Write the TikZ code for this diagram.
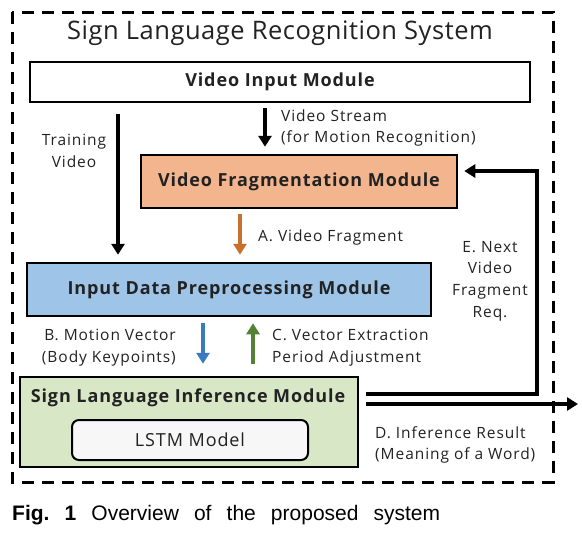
\documentclass[tikz,border=0pt]{standalone}
\usepackage{fontspec}
\setmainfont{Open Sans}
\newfontfamily\capfont{Liberation Sans}
\newfontfamily\lblfont{Open Sans}[LetterSpace=6]
\newfontfamily\boxfont{Open Sans}[LetterSpace=5]
\newfontfamily\titlefont{Open Sans}[LetterSpace=2]
\usetikzlibrary{arrows.meta}
\definecolor{txt}{HTML}{222222}
\definecolor{orfill}{HTML}{F2B58E}
\definecolor{orarrow}{HTML}{C9702A}
\definecolor{blfill}{HTML}{9EC4E8}
\definecolor{blarrow}{HTML}{3A7BBF}
\definecolor{grfill}{HTML}{D8E8C6}
\definecolor{grarrow}{HTML}{548235}
\definecolor{lstmfill}{HTML}{F7F7F7}
\tikzset{
  modbox/.style={draw=black, line width=2.5pt, inner sep=0pt, font=\boxfont\fontsize{18}{21}\selectfont\bfseries, text=txt},
  lbl/.style={font=\lblfont\fontsize{15.5}{21.7}\selectfont, text=txt, inner sep=0pt},
  arr/.style={line width=4pt, -{Triangle[length=11pt,width=13pt]}},
}
\begin{document}
\begin{tikzpicture}[x=1pt,y=-1pt]
\useasboundingbox (0,0) rectangle (582,542);
\draw[line width=3pt, dash pattern=on 12pt off 8pt] (12,12) rectangle (553,482);
\node[text=txt, font=\titlefont\fontsize{25.5}{28}\selectfont, inner sep=0pt] (title) at (280,33) {Sign Language Recognition System};
\node[modbox, fill=white, minimum width=500pt, minimum height=40pt] (vin) at (280,82) {Video Input Module};
\node[modbox, fill=orfill, minimum width=316pt, minimum height=53pt] (vfm) at (299,181.5) {Video Fragmentation Module};
\node[modbox, fill=blfill, minimum width=404pt, minimum height=53pt] (idp) at (229,289.5) {Input Data Preprocessing Module};
\node[modbox, fill=grfill, minimum width=338pt, minimum height=90pt] (sli) at (189,422) {};
\node[modbox, draw=none, fill=none] (slit) at (188,398) {Sign Language Inference Module};
\node[draw=black, line width=2pt, rounded corners=7pt, fill=lstmfill, minimum width=236pt, minimum height=40pt, font=\boxfont\fontsize{18}{21}\selectfont, text=txt] (lstm) at (190,440) {LSTM Model};
% coordinates for free ends
\coordinate (tv) at (118,0);
\coordinate (vs) at (265,0);
\coordinate (fa) at (240,0);
\coordinate (bv) at (203,0);
\coordinate (gv) at (253,0);
\coordinate (ecorner) at (537,171);
\coordinate (dend) at (578,404);
\coordinate (eout) at (366,394);
\coordinate (dout) at (366,404);
% arrows
\draw[arr] ([yshift=-11pt]vin.south -| tv) -- ([yshift=7pt]idp.north -| tv);
\draw[arr] ([yshift=-5pt]vin.south -| vs) -- ([yshift=7pt]vfm.north -| vs);
\draw[arr, draw=orarrow, fill=orarrow] ([yshift=-5pt]vfm.south -| fa) -- ([yshift=7pt]idp.north -| fa);
\draw[arr, draw=blarrow, fill=blarrow] ([yshift=-6pt]idp.south -| bv) -- ([yshift=12pt]sli.north -| bv);
\draw[arr, draw=grarrow, fill=grarrow] ([yshift=12pt]sli.north -| gv) -- ([yshift=-6pt]idp.south -| gv);
\draw[arr] (eout) -| (ecorner) -- ([xshift=6pt]ecorner -| vfm.east);
\draw[arr] (dout) -- (dend);
% labels
\node[lbl, align=center] (ltv) at (74,151) {Training\\Video};
\node[lbl, align=left, anchor=west] (lvs) at (281,128) {Video Stream\\(for Motion Recognition)};
\node[lbl, anchor=west] (lfa) at (258,237) {A. Video Fragment};
\node[lbl, align=right, anchor=east] (lbv) at (176,348) {B. Motion Vector\\(Body Keypoints)};
\node[lbl, align=left, anchor=west] (lgv) at (272,348) {C. Vector Extraction\\Period Adjustment};
\node[lbl, align=center] (lex) at (490,281) {E. Next\\Video\\Fragment\\Req.};
\node[lbl, align=left, anchor=west] (ld) at (375,445) {D. Inference Result\\(Meaning of a Word)};
\node[anchor=west, inner sep=0pt, font=\capfont\fontsize{21}{24}\selectfont] (cap) at (12,515) {\makebox[428pt][s]{\textbf{Fig.\ 1} Overview of the proposed system}};
\end{tikzpicture}
\end{document}
